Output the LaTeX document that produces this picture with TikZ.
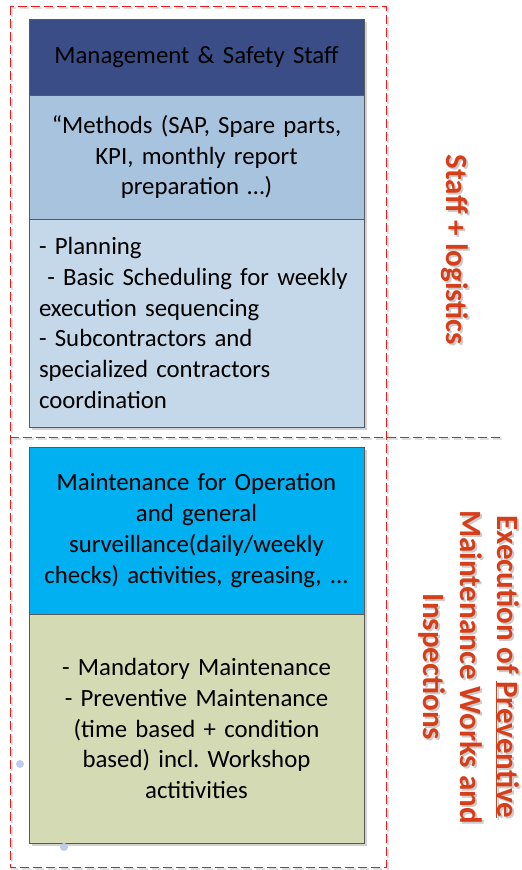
\documentclass[tikz,border=0pt]{standalone}
\usepackage{fontspec}
\setmainfont{Carlito}
\usetikzlibrary{positioning}
\usetikzlibrary{shadows}
\definecolor{mgmtblue}{RGB}{58,77,134}
\definecolor{methodblue}{RGB}{167,195,222}
\definecolor{planblue}{RGB}{197,216,233}
\definecolor{opscyan}{RGB}{0,176,240}
\definecolor{prevolive}{RGB}{212,219,180}
\definecolor{lblred}{RGB}{214,62,26}
\definecolor{zonered}{RGB}{232,28,28}
\definecolor{dotblue}{RGB}{190,205,238}

\begin{document}
\begin{tikzpicture}[x=1pt, y=-1pt,
	box/.style={draw=black!65, line width=0.8pt, inner xsep=10pt, inner ysep=0pt, outer sep=0pt,
		text width=315pt, align=center, font=\fontsize{24.8}{30.8}\selectfont,
		drop shadow={shadow xshift=3pt, shadow yshift=-3pt, fill=black, opacity=0.18}},
	zone/.style={draw=zonered, line width=1pt, dash pattern=on 9pt off 4pt},
	zoneshadow/.style={draw=black!12, line width=1.6pt, dash pattern=on 9pt off 4pt},
	lbl/.style={rotate=-90, align=center, inner sep=0pt, text=lblred, font=\bfseries\fontsize{31}{37}\selectfont},
	lblshadow/.style={lbl, text=black!20}]
	\useasboundingbox (0,0) rectangle (522,870);

	% zones
	\draw[zoneshadow] (12,8) rectangle (388,869);
	\draw[zoneshadow] (12,439) -- (504,439);
	\draw[zone] (10,6) rectangle (386,867);
	\coordinate (splitL) at (10,437);
	\coordinate (splitR) at (502,437);
	\draw[zone] (splitL) -- (splitR);

	% staff + logistics
	\node[box, fill=mgmtblue, minimum height=76pt, anchor=north west] (mgmt) at (29,19) {Management \& Safety Staff};
	\node[box, fill=methodblue, minimum height=124pt, below=0pt of mgmt] (methods)
		{“Methods (SAP, Spare parts,\\ KPI, monthly report\\ preparation …)};
	\node[box, fill=planblue, minimum height=208pt, align=left, below=0pt of methods] (planning)
		{- Planning\\ \ - Basic Scheduling for weekly\\ execution sequencing\\ - Subcontractors and\\ specialized contractors\\ coordination};

	% execution
	\node[box, fill=opscyan, minimum height=167pt, below=20pt of planning] (opsmaint)
		{Maintenance for Operation\\ and general\\ surveillance(daily/weekly\\ checks) activities, greasing, ...};
	\node[box, fill=prevolive, minimum height=229pt, below=0pt of opsmaint] (prevmaint)
		{- Mandatory Maintenance\\ - Preventive Maintenance\\ (time based + condition\\ based) incl.\ Workshop\\ actitivities};

	\fill[dotblue] (20,764) circle (4pt);
	\fill[dotblue] (64,847) circle (4pt);

	% side labels
	\node[lblshadow] (staffshadow) at (457,252) {Staff + logistics};
	\node[lbl] (stafflbl) at (455,250) {Staff + logistics};
	\node[lblshadow] (execshadow) at (471,669) {Execution of \underline{Preventive}\\ Maintenance Works and\\ Inspections};
	\node[lbl] (execlbl) at (469,667) {Execution of \underline{Preventive}\\ Maintenance Works and\\ Inspections};
\end{tikzpicture}
\end{document}
